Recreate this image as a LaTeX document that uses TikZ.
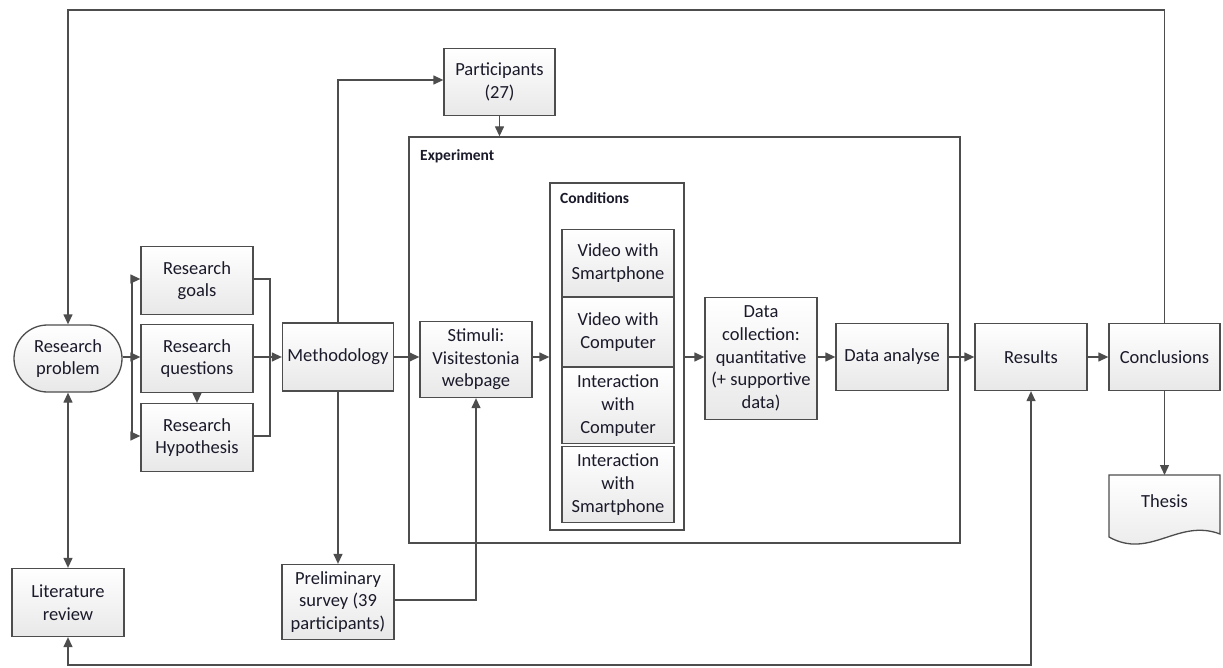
\documentclass[tikz,border=0pt]{standalone}
\usepackage{fontspec}
\setmainfont{Carlito}
\usetikzlibrary{arrows.meta,shapes.misc}
\definecolor{edge}{HTML}{4D4D4D}
\definecolor{txt}{HTML}{1A1A2A}
\begin{document}
\begin{tikzpicture}[x=1pt,y=-1pt,
  font=\fontsize{18.5}{22.6}\selectfont, text=txt,
  box/.style={draw=edge, line width=1.3pt, top color=white, bottom color=black!9,
    minimum width=112pt, align=center, inner sep=2pt},
  cont/.style={draw=edge, line width=1.3pt, fill=white},
  lbl/.style={font=\fontsize{15.5}{18}\selectfont\bfseries, anchor=north west, inner sep=0pt},
  con/.style={draw=edge, line width=1.3pt},
  arr/.style={con, -{Triangle[length=10pt,width=9pt]}},
  arrb/.style={con, {Triangle[length=10pt,width=9pt]}-{Triangle[length=10pt,width=9pt]}}]
\useasboundingbox (0,0) rectangle (1223,668);

% containers
\node[cont, minimum width=551pt, minimum height=406pt] (exp) at (684.5,340) {};
\node[lbl] (explbl) at (420,149) {Experiment};
\node[cont, minimum width=134pt, minimum height=347pt] (cond) at (617,356.5) {};
\node[lbl] (condlbl) at (560,192) {Conditions};

% nodes
\node[box, shape=rounded rectangle, minimum height=67pt] (rp) at (68,358.5) {Research\\problem};
\node[box, minimum height=68pt] (lit) at (68,602.5) {Literature\\review};
\node[box, minimum height=68pt] (goals) at (197,280.5) {Research\\goals};
\node[box, minimum height=68pt] (quest) at (197,358.5) {Research\\questions};
\node[box, minimum height=68pt] (hyp) at (197,437.5) {Research\\Hypothesis};
\node[box, minimum width=111pt, minimum height=68pt] (meth) at (338,357) {Methodology};
\node[box, minimum width=111pt, minimum height=67pt] (part) at (499.5,82) {Participants\\(27)};
\node[box, minimum height=75pt] (prel) at (338,602) {Preliminary\\survey (39\\participants)};
\node[box, minimum height=76pt] (stim) at (476,359.5) {Stimuli:\\Visitestonia\\webpage};
\node[box, minimum height=67pt] (c1) at (618,263) {Video with\\Smartphone};
\node[box, minimum height=69pt] (c2) at (618,332) {Video with\\Computer};
\node[box, minimum height=76pt] (c3) at (618,405.5) {Interaction\\with\\Computer};
\node[box, minimum height=76pt] (c4) at (618,484.5) {Interaction\\with\\Smartphone};
\node[box, minimum height=122pt] (dc) at (761,358.5) {Data\\collection:\\quantitative\\(+ supportive\\data)};
\node[box, minimum height=67pt] (da) at (892,357) {Data analyse};
\node[box, minimum height=67pt] (res) at (1031,357) {Results};
\node[box, minimum width=111pt, minimum height=67pt] (concl) at (1164.5,357) {Conclusions};
% thesis document shape
\path[draw=edge, line width=1.3pt, top color=white, bottom color=black!9]
  (1109,475) -- (1220,475) -- (1220,534)
  .. controls (1178,518) and (1150,560) .. (1109,537) -- cycle;
\node[inner sep=0pt] (thesis) at (1164.5,501) {Thesis};
\coordinate (thtop) at (1164.5,475);

% connectors
\coordinate (rpn) at (68,323);
\draw[arr] (concl.north) -- (concl.north |- 0,10) -| (rp.north);
\draw[arrb] (rp.south) -- (lit.north);
\draw[arrb] (res.south) -- (res.south |- 0,665) -| (lit.south);
\coordinate (split) at (132,357);
\draw[con] (rp.east |- split) -- (split);
\draw[arr] (split) |- (goals.west |- 0,279);
\draw[arr] (split) -- (quest.west |- split);
\draw[arr] (split) |- (hyp.west |- 0,436);
\draw[arr] (quest.south) -- (hyp.north);
\coordinate (merge) at (270,357);
\draw[con] (goals.east |- 0,279) -| (merge);
\draw[con] (hyp.east |- 0,436) -| (merge);
\draw[arr] (quest.east |- merge) -- (meth.west);
\draw[arr] (meth.north) |- (part.west |- 0,80);
\draw[arr] (part.south) -- (part.south |- exp.north);
\draw[arr] (meth.south) -- (prel.north);
\draw[arr] (prel.east |- 0,600) -| (stim.south);
\draw[arr] (meth.east) -- (stim.west |- meth.east);
\draw[arr] (stim.east |- meth.east) -- (meth.east -| cond.west);
\draw[arr] (meth.east -| cond.east) -- (meth.east -| dc.west);
\draw[arr] (dc.east |- meth.east) -- (da.west);
\draw[arr] (da.east) -- (res.west);
\draw[arr] (res.east) -- (concl.west);
\draw[arr] (concl.south) -- (thtop);
\end{tikzpicture}
\end{document}
